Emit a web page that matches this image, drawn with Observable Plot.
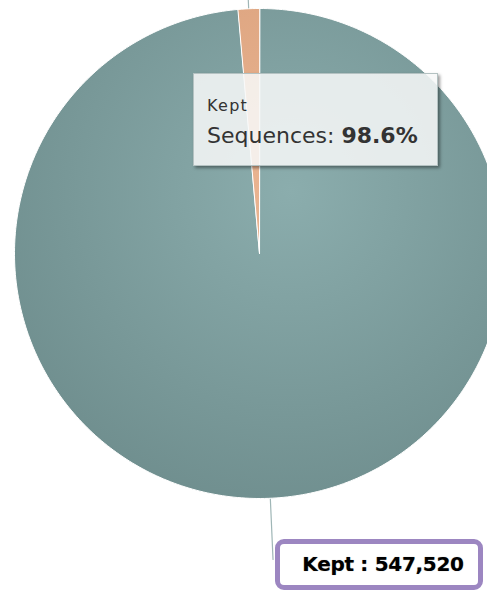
<!DOCTYPE html>
<html>
<head>
<meta charset="utf-8">
<script src="https://cdn.jsdelivr.net/npm/d3@7"></script>
<script src="https://cdn.jsdelivr.net/npm/@observablehq/plot@0.6"></script>
<style>
  html, body { margin: 0; padding: 0; background: #fff; overflow: hidden; }
  #wrap { position: relative; width: 487px; height: 592px; overflow: hidden; }
  #wrap svg { position: absolute; left: 0; top: 0; }
  .tip { position: absolute; left: 193px; top: 73px; width: 243px; height: 91px;
         background: rgba(247,248,248,0.86); border: 1px solid #b4c2c2;
         box-shadow: 2px 2px 3px rgba(0,0,0,0.4); font-family: "DejaVu Sans", sans-serif; color: #333; }
  .tip .t1 { position: absolute; left: 13px; top: 23px; font-size: 16px; line-height: 18px; letter-spacing: 1.3px; }
  .tip .t2 { position: absolute; left: 13px; top: 49px; font-size: 22px; line-height: 26px; white-space: nowrap; }
  .lab { position: absolute; left: 275px; top: 539px; width: 198px; height: 41px;
         border: 5px solid #9c86c1; border-radius: 9px; background: #fff;
         font-family: "DejaVu Sans", sans-serif; font-weight: bold; font-size: 20px;
         line-height: 41px; text-align: center; color: #000; white-space: nowrap;
         text-shadow: 0 0 1px rgba(0,0,0,0.4); letter-spacing: -0.3px; text-indent: 8px; }
</style>
</head>
<body>
<div id="wrap"></div>
<script>
// ---- data ----
const categories = ["Kept", "Dropped"];
const sequences = [547520, 7810];
const seriesName = "Sequences";
const sliceColors = ["#7f9e9e", "#e2a985"];

// ---- build slices with d3.pie ----
const total = d3.sum(sequences);
const pie = d3.pie().sort(null).value(d => d)(sequences);
const pts = [];
pie.forEach((p, i) => {
  const n = Math.max(4, Math.ceil((p.endAngle - p.startAngle) / (2 * Math.PI) * 400));
  pts.push({key: categories[i], x: 0, y: 0});
  for (let k = 0; k <= n; k++) {
    const a = p.startAngle + (p.endAngle - p.startAngle) * k / n;
    pts.push({key: categories[i], x: Math.sin(a), y: Math.cos(a)});
  }
});
// connectors
const conn = [];
pie.forEach((p, i) => {
  const m = (p.startAngle + p.endAngle) / 2;
  conn.push({key: categories[i], x: Math.sin(m), y: Math.cos(m)});
  conn.push({key: categories[i], x: Math.sin(m) * 1.25, y: Math.cos(m) * 1.25});
});

const svg = Plot.plot({
  width: 487, height: 592,
  margin: 0,
  style: {background: "transparent", overflow: "hidden"},
  x: {domain: [-1, 1], range: [14, 504], axis: null},
  y: {domain: [-1, 1], range: [498, 8], axis: null},
  marks: [
    Plot.line(conn, {x: "x", y: "y", z: "key", stroke: "#9fb6b6", strokeWidth: 1.2}),
    ...categories.map((c, i) => Plot.line(pts.filter(d => d.key === c), {
      x: "x", y: "y", curve: "linear-closed",
      fill: `url(#grad${i})`, stroke: "#ffffff", strokeWidth: 1, strokeLinejoin: "round"
    }))
  ]
});

// gradient defs
const ns = "http://www.w3.org/2000/svg";
const defs = document.createElementNS(ns, "defs");
const stops = [["#8badad", "#6f8e8e"], ["#eab592", "#d79d78"]];
stops.forEach((s, i) => {
  const g = document.createElementNS(ns, "radialGradient");
  g.setAttribute("id", "grad" + i);
  g.setAttribute("gradientUnits", "userSpaceOnUse");
  g.setAttribute("cx", 290); g.setAttribute("cy", 190); g.setAttribute("r", 330);
  const a = document.createElementNS(ns, "stop");
  a.setAttribute("offset", "0"); a.setAttribute("stop-color", s[0]);
  const b = document.createElementNS(ns, "stop");
  b.setAttribute("offset", "1"); b.setAttribute("stop-color", s[1]);
  g.appendChild(a); g.appendChild(b); defs.appendChild(g);
});
svg.insertBefore(defs, svg.firstChild);

const wrap = document.getElementById("wrap");
wrap.appendChild(svg);

// tooltip
const pct = (sequences[0] / total * 100).toFixed(1) + "%";
const tip = document.createElement("div");
tip.className = "tip";
tip.innerHTML = `<div class="t1">${categories[0]}</div><div class="t2">${seriesName}: <b>${pct}</b></div>`;
wrap.appendChild(tip);

// data label
const lab = document.createElement("div");
lab.className = "lab";
lab.textContent = `${categories[0]} : ${d3.format(",")(sequences[0])}`;
wrap.appendChild(lab);
</script>
</body>
</html>
